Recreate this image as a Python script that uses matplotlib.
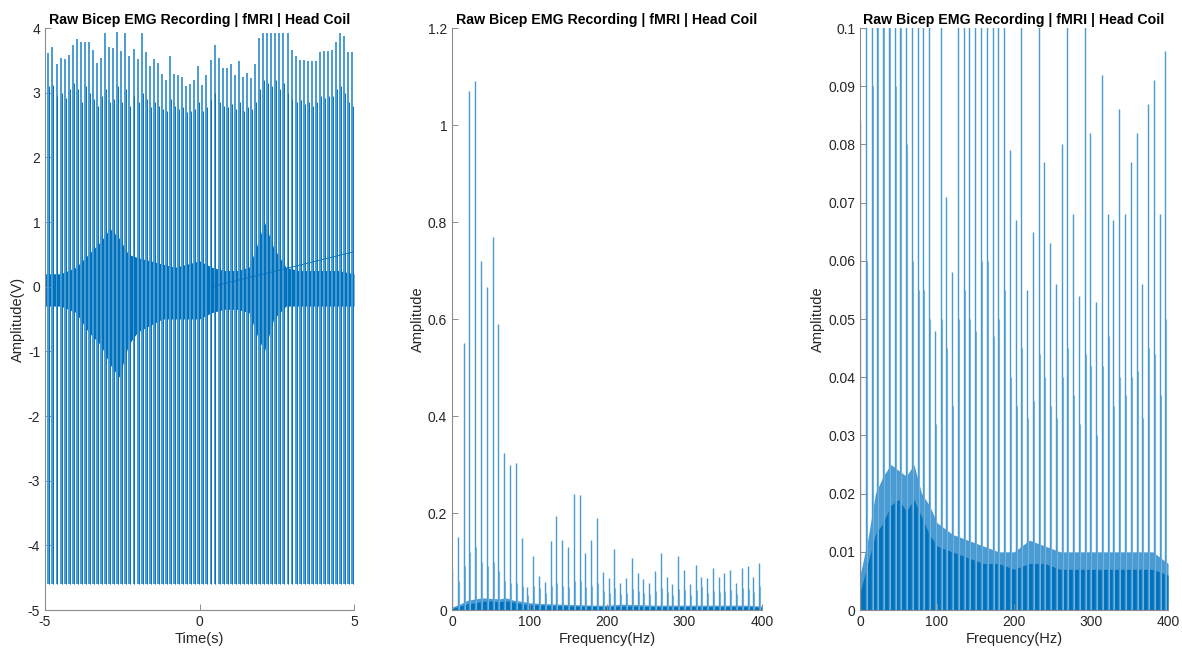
import numpy as np
import matplotlib
matplotlib.use('Agg')
import matplotlib.pyplot as plt

plt.rcParams['font.family'] = ['Liberation Sans', 'DejaVu Sans']
plt.rcParams['axes.unicode_minus'] = False

# --- time domain: artifact spikes (peak height read per spike) ---
spike_first, spike_last = -4.89, 4.946
spike_tops = [3.62, 3.70, 3.45, 3.54, 3.52, 3.58, 3.74, 3.83, 3.78, 3.78,
              3.78, 3.66, 3.46, 3.54, 3.92, 3.71, 3.69, 3.94, 3.64, 3.93,
              3.57, 3.68, 3.52, 3.93, 3.63, 3.41, 3.52, 3.46, 3.29, 3.19,
              3.56, 3.29, 3.27, 3.25, 3.11, 3.14, 3.20, 3.41, 3.12, 3.27,
              3.51, 3.73, 3.54, 3.38, 3.38, 3.45, 3.28, 3.49, 3.24, 3.30,
              3.22, 3.44, 3.85, 3.93, 3.93, 3.93, 3.93, 3.93, 3.93, 3.93,
              3.66, 3.56, 3.51, 3.51, 3.49, 3.49, 3.49, 3.63, 3.64, 3.64,
              3.66, 3.79, 3.93, 3.87, 3.63, 3.63]
# darker second sample of each spike
spike_second = [3.10, 3.12, 2.95, 3.00, 2.92, 3.05, 3.15, 3.05, 2.85, 3.10,
                3.00, 2.90, 2.80, 2.95, 3.05, 2.85, 2.90, 3.10, 2.85, 3.05,
                2.80, 2.95, 2.85, 3.00, 2.90, 2.78, 2.85, 2.80, 2.75, 2.72,
                2.90, 2.80, 2.75, 2.78, 2.70, 2.72, 2.75, 2.85, 2.72, 2.78,
                2.88, 3.00, 2.85, 2.80, 2.78, 2.82, 2.75, 2.85, 2.72, 2.78,
                2.75, 2.85, 3.05, 3.20, 3.15, 3.10, 3.20, 3.05, 3.15, 3.00,
                2.90, 2.85, 2.88, 2.82, 2.85, 2.80, 2.85, 2.95, 2.92, 2.95,
                2.95, 3.05, 3.10, 3.00, 2.85, 2.80]
spike_bottom = -4.6

# EMG noise band envelope
env_t = [-5.0, -4.5, -4.0, -3.6, -3.2, -2.9, -2.6, -2.3, -2.0, -1.6, -1.2,
         -0.8, -0.4, 0.0, 0.4, 0.8, 1.2, 1.6, 1.9, 2.1, 2.4, 2.8, 3.2, 3.6,
         4.0, 4.5, 5.0]
env_hi = [0.2, 0.2, 0.3, 0.5, 0.7, 0.9, 0.75, 0.5, 0.45, 0.4, 0.35, 0.3,
          0.35, 0.4, 0.3, 0.25, 0.25, 0.3, 0.7, 1.0, 0.6, 0.3, 0.25, 0.25,
          0.25, 0.25, 0.2]
env_lo = [-0.3, -0.3, -0.4, -0.7, -0.9, -1.2, -1.4, -0.9, -0.7, -0.6, -0.5,
          -0.5, -0.5, -0.5, -0.4, -0.35, -0.35, -0.4, -0.8, -1.0, -0.5, -0.3,
          -0.3, -0.3, -0.3, -0.3, -0.3]
drift_t = [0.4, 5.0]
drift_v = [0.0, 0.54]

# --- spectrum: harmonic peaks of the gradient artifact ---
f0 = 7.48
dc_peak = 0.084
harm_peaks = [0.15, 0.55, 1.07, 1.09, 0.72, 0.665, 0.77, 0.59, 0.324, 0.30,
              0.303, 0.149, 0.048, 0.111, 0.071, 0.058, 0.143, 0.194, 0.145,
              0.129, 0.24, 0.237, 0.118, 0.144, 0.189, 0.079, 0.067, 0.126,
              0.055, 0.065, 0.108, 0.077, 0.063, 0.056, 0.080, 0.117, 0.068,
              0.054, 0.112, 0.082, 0.053, 0.092, 0.068, 0.067, 0.086, 0.068,
              0.077, 0.082, 0.056, 0.087, 0.091, 0.068, 0.096]
side_offset = 1.3
side_peaks = [0.06, 0.09, 0.12, 0.13, 0.10, 0.09, 0.10, 0.08, 0.06, 0.055,
              0.055, 0.05, 0.032, 0.05, 0.045, 0.035, 0.05, 0.055, 0.05,
              0.048, 0.06, 0.06, 0.047, 0.05, 0.055, 0.04, 0.035, 0.045,
              0.033, 0.036, 0.044, 0.04, 0.035, 0.033, 0.04, 0.045, 0.037,
              0.032, 0.044, 0.042, 0.03, 0.042, 0.047, 0.035, 0.04, 0.037,
              0.04, 0.041, 0.033, 0.045, 0.044, 0.037, 0.05]
floor_f = [0, 10, 20, 30, 40, 50, 60, 70, 80, 90, 100, 120, 140, 160, 180,
           200, 220, 240, 260, 280, 300, 320, 340, 360, 380, 400]
floor_hi = [0.003, 0.008, 0.013, 0.015, 0.018, 0.019, 0.017, 0.019, 0.016,
            0.013, 0.011, 0.010, 0.009, 0.008, 0.008, 0.007, 0.008, 0.008,
            0.007, 0.007, 0.007, 0.007, 0.007, 0.007, 0.007, 0.006]
floor_top = [0.006, 0.012, 0.02, 0.023, 0.025, 0.024, 0.023, 0.025, 0.02,
             0.018, 0.015, 0.013, 0.012, 0.011, 0.01, 0.01, 0.012, 0.011,
             0.01, 0.01, 0.01, 0.01, 0.01, 0.01, 0.01, 0.008]

blue = '#0072BD'
light = '#4a9bd3'
pale = '#7db8de'
title = 'Raw Bicep EMG Recording | fMRI | Head Coil'

fig = plt.figure(figsize=(11.82, 6.5), dpi=100)
ax1 = fig.add_axes([0.0381, 0.0615, 0.2614, 0.8954])
ax2 = fig.add_axes([0.3824, 0.0615, 0.2623, 0.8954])
ax3 = fig.add_axes([0.7276, 0.0615, 0.2606, 0.8954])


def matlab_style(ax):
    for s in ['top', 'right']:
        ax.spines[s].set_visible(False)
    for s in ['left', 'bottom']:
        ax.spines[s].set_color('#8c8c8c')
        ax.spines[s].set_linewidth(0.8)
    ax.tick_params(direction='in', length=4, width=0.7, colors='#8c8c8c',
                   labelcolor='#262626', labelsize=10)
    ax.set_title(title, fontsize=10.2, fontweight='bold', pad=3)


# panel 1
spike_t = np.linspace(spike_first, spike_last, len(spike_tops))
ax1.vlines(spike_t, spike_bottom, spike_tops, color=light, lw=1.4)
ax1.vlines(spike_t + 0.03, spike_bottom, spike_second, color=blue, lw=0.7)
ax1.fill_between(env_t, env_lo, env_hi, color=blue, lw=0)
ax1.plot(drift_t, drift_v, color=blue, lw=0.6)
ax1.set_xlim(-5, 5)
ax1.set_ylim(-5, 4)
ax1.set_xticks([-5, 0, 5])
ax1.set_yticks(range(-5, 5))
ax1.set_xlabel('Time(s)', fontsize=10.5, color='#262626', labelpad=2)
ax1.set_ylabel('Amplitude(V)', fontsize=10.5, color='#262626', labelpad=2)
matlab_style(ax1)

# panels 2 and 3 share the spectrum
harm_f = f0 * np.arange(1, len(harm_peaks) + 1)
for ax, top, ticks in [(ax2, 1.2, np.arange(0, 1.21, 0.2)),
                       (ax3, 0.1, np.arange(0, 0.101, 0.01))]:
    ax.fill_between(floor_f, 0, floor_top, color=light, lw=0)
    ax.fill_between(floor_f, 0, floor_hi, color=blue, lw=0)
    ax.vlines(harm_f + side_offset, 0, side_peaks, color=pale, lw=0.8)
    ax.vlines([0.3], 0, dc_peak, color=light, lw=1.0)
    ax.vlines(harm_f, 0, harm_peaks, color=light, lw=1.0)
    ax.set_xlim(0, 400)
    ax.set_ylim(0, top)
    ax.set_xticks(range(0, 401, 100))
    ax.set_yticks(ticks)
    ax.set_yticklabels(['%g' % round(v, 3) for v in ticks])
    ax.set_xlabel('Frequency(Hz)', fontsize=10.5, color='#262626', labelpad=2)
    ax.set_ylabel('Amplitude', fontsize=10.5, color='#262626', labelpad=2)
    matlab_style(ax)

fig.savefig('out.png', dpi=100)
